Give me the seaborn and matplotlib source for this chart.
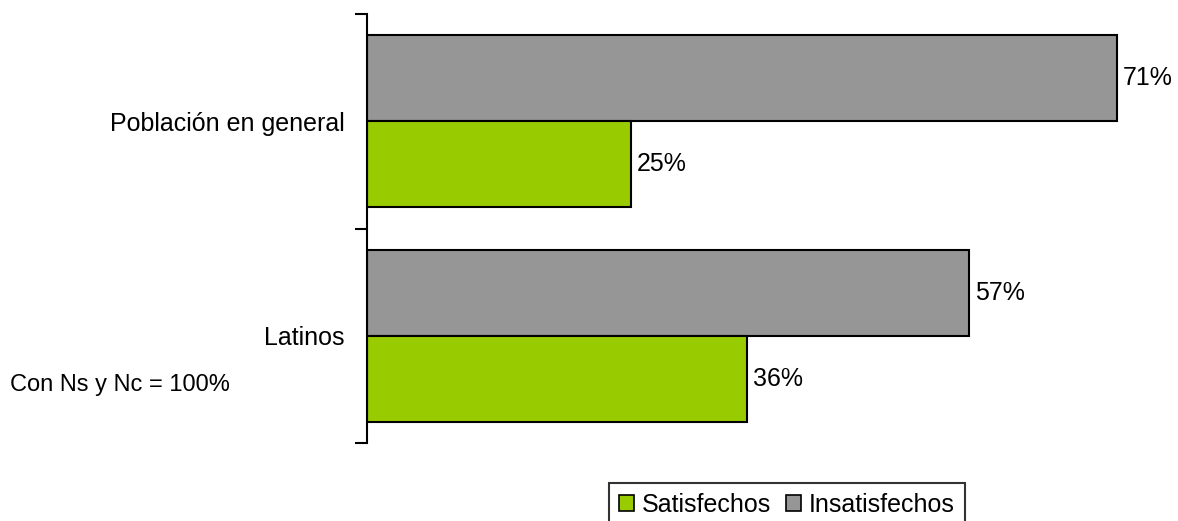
import pandas as pd
import matplotlib
matplotlib.use("Agg")
import matplotlib.pyplot as plt
import seaborn as sns
from matplotlib.patches import Patch

groups = ["Población en general", "Latinos"]
satisfechos = [25, 36]
insatisfechos = [71, 57]
series = ["Insatisfechos", "Satisfechos"]
colors = {"Satisfechos": "#99CC00", "Insatisfechos": "#969696"}

df = pd.DataFrame({
    "grupo": groups * 2,
    "serie": ["Insatisfechos"] * 2 + ["Satisfechos"] * 2,
    "valor": insatisfechos + satisfechos,
})

sns.set_style("white")
plt.rcParams["font.family"] = ["Liberation Sans", "DejaVu Sans"]
plt.rcParams["text.color"] = "black"
plt.rcParams["ytick.color"] = "black"
plt.rcParams["xtick.color"] = "black"

fig = plt.figure(figsize=(11.78, 5.21), dpi=100)
ax = fig.add_axes([367 / 1178, 1 - 443 / 521, 811 / 1178, 429 / 521])

sns.barplot(data=df, y="grupo", x="valor", hue="serie", hue_order=series,
            order=groups, palette=colors, saturation=1, orient="h", width=0.8,
            edgecolor="black", linewidth=1.5, legend=False, ax=ax)

for cont in ax.containers:
    ax.bar_label(cont, fmt="%d%%", padding=4, fontsize=18, color="black")

ax.set_xlim(0, 811 / 10.563)
ax.set_ylim(1.5, -0.5)
ax.set_xlabel("")
ax.set_ylabel("")
ax.set_xticks([])

# ticks at the band boundaries, labels in the middle
ax.set_yticks([-0.5, 0.5, 1.5])
ax.set_yticklabels([])
ax.set_yticks([0, 1], minor=True)
ax.set_yticklabels(groups, minor=True, fontsize=18)
ax.tick_params(axis="y", which="major", length=9, width=1.5, color="black", left=True)
ax.tick_params(axis="y", which="minor", length=0, pad=16, labelcolor="black")

for s in ["top", "right", "bottom"]:
    ax.spines[s].set_visible(False)
ax.spines["left"].set_color("black")
ax.spines["left"].set_linewidth(1.5)

fig.text(10 / 1178, 1 - 385 / 521, "Con Ns y Nc = 100%", fontsize=17, va="center", ha="left")

handles = [Patch(facecolor=colors[k], edgecolor="black", linewidth=1.2, label=k)
           for k in ["Satisfechos", "Insatisfechos"]]
leg = fig.legend(handles=handles, loc="upper center", bbox_to_anchor=(787 / 1178, 1 - 483 / 521),
                 ncol=2, fontsize=18, frameon=True, fancybox=False, handlelength=0.6,
                 handleheight=0.6, handletextpad=0.3, columnspacing=0.6, borderpad=0.4,
                 borderaxespad=0)
leg.get_frame().set_edgecolor("black")
leg.get_frame().set_linewidth(1.5)

fig.savefig("out.png", dpi=100)
